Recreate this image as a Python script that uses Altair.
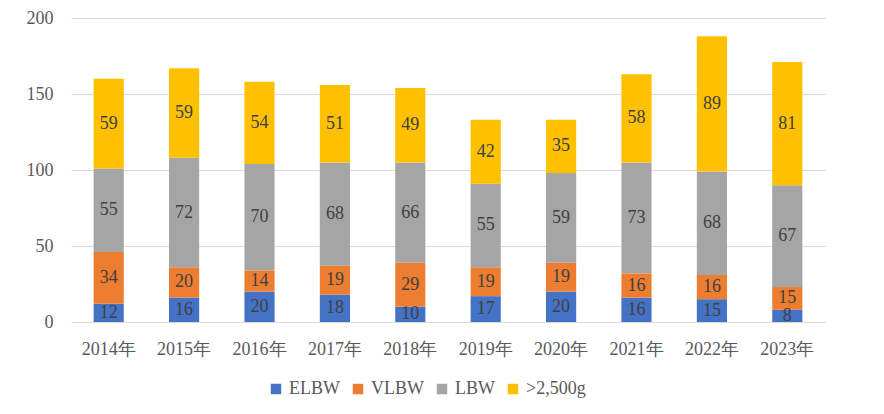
import altair as alt
import pandas as pd

years = ["2014年", "2015年", "2016年", "2017年", "2018年", "2019年", "2020年", "2021年", "2022年", "2023年"]
series = ["ELBW", "VLBW", "LBW", ">2,500g"]
elbw = [12, 16, 20, 18, 10, 17, 20, 16, 15, 8]
vlbw = [34, 20, 14, 19, 29, 19, 19, 16, 16, 15]
lbw = [55, 72, 70, 68, 66, 55, 59, 73, 68, 67]
over = [59, 59, 54, 51, 49, 42, 35, 58, 89, 81]
colors = ["#4472C4", "#ED7D31", "#A5A5A5", "#FFC000"]

rows = []
for vals, name, k in zip([elbw, vlbw, lbw, over], series, range(4)):
    for y, v in zip(years, vals):
        rows.append({"year": y, "series": name, "value": v, "ord": k})
df = pd.DataFrame(rows)

FONT = "Liberation Serif"

base = alt.Chart(df)

bars = base.mark_bar().encode(
    x=alt.X("year:N", sort=years, title=None,
            scale=alt.Scale(paddingInner=0.6, paddingOuter=0.3),
            axis=alt.Axis(labelAngle=0, labelFont=FONT, labelFontSize=18, labelColor="#595959",
                          ticks=False, domain=False, labelPadding=18)),
    y=alt.Y("value:Q", stack="zero", title=None,
            scale=alt.Scale(domain=[0, 200]),
            axis=alt.Axis(values=[0, 50, 100, 150, 200], labelFont=FONT, labelFontSize=18,
                          labelColor="#595959", ticks=False, domain=False, gridColor="#D9D9D9",
                          labelPadding=18)),
    color=alt.Color("series:N", sort=series,
                    scale=alt.Scale(domain=series, range=colors),
                    legend=alt.Legend(title=None, orient="none", direction="horizontal",
                                      legendX=196, legendY=362, symbolType="square",
                                      symbolSize=110, symbolStrokeWidth=0,
                                      labelFont=FONT, labelFontSize=18, labelColor="#595959",
                                      columnPadding=9, symbolOffset=0, labelOffset=4)),
    order=alt.Order("ord:Q", sort="ascending"),
)

text = base.transform_stack(
    stack="value", groupby=["year"], as_=["v0", "v1"],
    sort=[alt.SortField("ord", order="ascending")]
).transform_calculate(
    mid="(datum.v0 + datum.v1) / 2"
).mark_text(font=FONT, fontSize=18, color="#404040", baseline="middle").encode(
    x=alt.X("year:N", sort=years),
    y=alt.Y("mid:Q"),
    text=alt.Text("value:Q"),
)

chart = alt.layer(bars, text).properties(
    width=754, height=304,
    autosize=alt.AutoSizeParams(type="none"),
    padding={"left": 63, "top": 10, "right": 40, "bottom": 90},
).configure_view(stroke=None)

chart.save("out.html", embed_options={"renderer": "svg", "actions": False})
